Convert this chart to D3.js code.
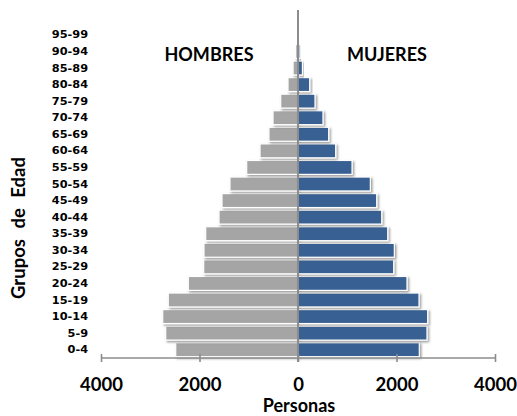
<!DOCTYPE html>
<html>
<head>
<meta charset="utf-8">
<script src="https://cdn.jsdelivr.net/npm/d3@7"></script>
<style>
  body { margin: 0; background: #fff; }
  svg { display: block; }
</style>
</head>
<body>
<div id="chart"></div>
<script>
// age groups from bottom to top
const ages = ['0-4', '5-9', '10-14', '15-19', '20-24', '25-29', '30-34', '35-39', '40-44', '45-49',
  '50-54', '55-59', '60-64', '65-69', '70-74', '75-79', '80-84', '85-89', '90-94', '95-99']
const hombres = [2483, 2686, 2747, 2634, 2227, 1915, 1909, 1874, 1604, 1543,
  1381, 1042, 771, 590, 507, 351, 203, 100, 47, 10]
const mujeres = [2463, 2619, 2633, 2457, 2213, 1943, 1956, 1822, 1700, 1598,
  1469, 1097, 765, 623, 507, 345, 237, 90, 40, 12]
const xTicks = [-4000, -2000, 0, 2000, 4000]

const width = 517
const height = 416
const plotTop = 10
const plotBottom = 358
const step = (plotBottom - plotTop) / 21   // one empty slot on top

const svg = d3.select('#chart')
  .append('svg')
  .attr('width', width)
  .attr('height', height)

const defs = svg.append('defs')
const shadow = defs.append('filter')
  .attr('id', 'shadow')
  .attr('x', '-10%').attr('y', '-30%')
  .attr('width', '130%').attr('height', '170%')
shadow.append('feDropShadow')
  .attr('dx', 1.5).attr('dy', 1.5)
  .attr('stdDeviation', 1.2)
  .attr('flood-color', '#000')
  .attr('flood-opacity', 0.4)

let x = d3.scaleLinear()
  .domain([-4000, 4000])
  .range([101, 495])

let y = d3.scaleBand()
  .domain(ages)
  .range([plotBottom, plotTop + step])
  .paddingInner(0.16)
  .paddingOuter(0.08)

//Bars
const rows = ages.map((a, i) => ({ age: a, h: hombres[i], m: mujeres[i] }))

svg.append('g')
  .selectAll('rect')
  .data(rows)
  .enter()
  .append('rect')
  .attr('x', d => x(-d.h))
  .attr('y', d => y(d.age))
  .attr('width', d => x(0) - x(-d.h))
  .attr('height', y.bandwidth())
  .style('fill', '#a5a5a5')
  .style('stroke', '#fff')
  .style('stroke-width', 1.2)
  .attr('filter', 'url(#shadow)')

svg.append('g')
  .selectAll('rect')
  .data(rows)
  .enter()
  .append('rect')
  .attr('x', x(0))
  .attr('y', d => y(d.age))
  .attr('width', d => x(d.m) - x(0))
  .attr('height', y.bandwidth())
  .style('fill', '#376092')
  .style('stroke', '#fff')
  .style('stroke-width', 1.2)
  .attr('filter', 'url(#shadow)')

//x axis
let xAxis = d3.axisBottom(x)
  .tickValues(xTicks)
  .tickSize(8)
  .tickFormat(d => Math.abs(d))

let gx = svg.append('g')
  .attr('transform', `translate(0, ${plotBottom})`)
  .call(xAxis)
gx.select('.domain')
  .attr('d', `M${x(-4000)},0H${x(4000)}`)
  .style('stroke', '#8c8c8c')
  .style('stroke-width', 1.6)
gx.selectAll('.tick line')
  .attr('y1', -4)
  .attr('y2', 4)
  .style('stroke', '#8c8c8c')
  .style('stroke-width', 1.6)
gx.selectAll('.tick text')
  .attr('y', 33)
  .attr('dy', 0)
  .style('font-family', 'Lato, sans-serif')
  .style('font-weight', 'bold')
  .style('font-size', '18.5px')
  .style('fill', '#000')

//zero line
svg.append('line')
  .attr('x1', x(0)).attr('x2', x(0))
  .attr('y1', plotTop).attr('y2', plotBottom + 4)
  .style('stroke', '#8c8c8c')
  .style('stroke-width', 2)

//age labels
let yAxis = d3.axisLeft(y)
  .tickSize(0)
  .tickPadding(0)
let gy = svg.append('g')
  .attr('transform', 'translate(88, 0)')
  .call(yAxis)
gy.select('.domain').remove()
gy.selectAll('.tick text')
  .style('font-family', '"DejaVu Sans", sans-serif')
  .style('font-weight', 'bold')
  .style('font-size', '11.3px')
  .style('fill', '#000')

//titles
svg.append('text')
  .attr('x', 209).attr('y', 61)
  .attr('text-anchor', 'middle')
  .style('font-family', 'Lato, sans-serif')
  .style('font-weight', 'bold')
  .style('font-size', '18px')
  .text('HOMBRES')

svg.append('text')
  .attr('x', 387).attr('y', 61)
  .attr('text-anchor', 'middle')
  .style('font-family', 'Lato, sans-serif')
  .style('font-weight', 'bold')
  .style('font-size', '18px')
  .text('MUJERES')

svg.append('text')
  .attr('x', 299).attr('y', 412)
  .attr('text-anchor', 'middle')
  .style('font-family', 'Lato, sans-serif')
  .style('font-weight', 'bold')
  .style('font-size', '18px')
  .text('Personas')

svg.append('text')
  .attr('transform', 'translate(25, 228) rotate(-90)')
  .attr('text-anchor', 'middle')
  .style('font-family', 'Lato, sans-serif')
  .style('font-weight', 'bold')
  .style('font-size', '18.5px')
  .style('word-spacing', '6px')
  .text('Grupos de Edad')
</script>
</body>
</html>
